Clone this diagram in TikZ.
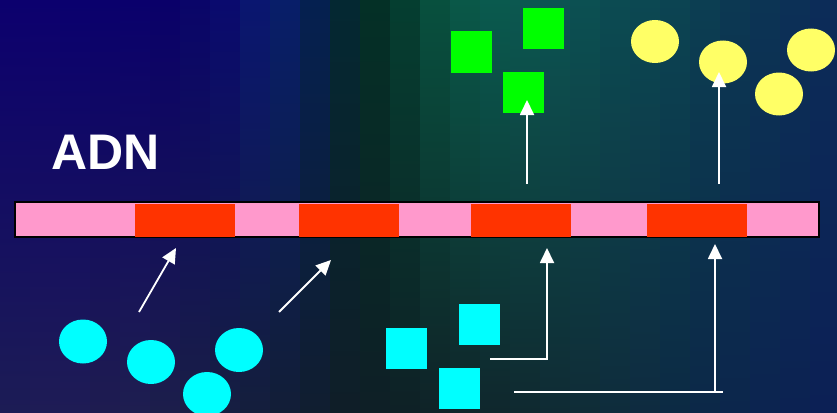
\documentclass[tikz,border=0pt]{standalone}
\usepackage{fontspec}
\setmainfont{Liberation Sans}
\usetikzlibrary{arrows.meta,shapes.geometric}
\definecolor{pinkbar}{RGB}{255,153,204}
\definecolor{redseg}{RGB}{255,51,0}
\definecolor{cyanx}{RGB}{0,255,255}
\definecolor{greenx}{RGB}{0,255,0}
\definecolor{yellowx}{RGB}{255,255,102}
\tikzset{
  seg/.style={fill=redseg, draw=none, minimum width=100pt, minimum height=33pt, inner sep=0},
  sq/.style={draw=none, minimum width=41pt, minimum height=41pt, inner sep=0},
  blob/.style={ellipse, draw=none, minimum width=48pt, minimum height=44pt, inner sep=0},
  arr/.style={draw=white, line width=1.8pt, -{Triangle[width=14pt,length=15pt]}},
  wline/.style={draw=white, line width=2pt}
}
\begin{document}
\begin{tikzpicture}[x=1pt,y=-1pt]
\useasboundingbox (0,0) rectangle (837,412);
% background: vertical strips with top/middle/bottom colours
\foreach \i/\ta/\tb/\tc/\ma/\mb/\mc/\ba/\bb/\bc in {
 0/12/0/110/10/30/120/28/28/85,
 1/12/0/110/10/32/120/30/28/85,
 2/10/0/110/10/35/120/30/28/85,
 3/10/0/108/10/38/118/30/28/80,
 4/10/0/108/10/40/115/30/30/80,
 5/10/0/105/10/42/110/28/30/75,
 6/10/5/105/10/45/105/25/30/70,
 7/10/10/110/10/45/100/22/30/65,
 8/10/22/112/8/45/92/20/30/60,
 9/8/30/105/6/44/80/18/30/55,
 10/5/32/80/5/42/65/16/30/48,
 11/4/40/50/4/42/45/15/30/40,
 12/4/48/38/4/44/36/14/31/38,
 13/5/62/48/5/48/38/14/33/38,
 14/8/80/62/6/55/45/15/35/40,
 15/10/88/72/8/62/55/15/37/42,
 16/10/90/78/8/66/62/15/39/45,
 17/12/88/80/8/68/68/15/41/48,
 18/12/84/82/8/68/72/15/43/52,
 19/12/80/82/8/67/76/15/44/55,
 20/12/75/82/8/66/80/14/44/60,
 21/12/72/82/8/65/84/14/43/64,
 22/12/68/82/8/64/88/12/42/68,
 23/12/62/82/8/62/92/12/40/72,
 24/12/56/82/8/60/96/12/38/76,
 25/12/52/84/8/56/100/12/36/80,
 26/12/48/86/8/52/104/12/34/82,
 27/12/44/88/8/48/108/12/32/85}{
  \definecolor{bgt}{RGB}{\ta,\tb,\tc}
  \definecolor{bgm}{RGB}{\ma,\mb,\mc}
  \definecolor{bgb}{RGB}{\ba,\bb,\bc}
  \shade[top color=bgt, middle color=bgm, bottom color=bgb] (\i*30,0) rectangle (\i*30+30.6,412);
}
% text
\node[anchor=base west, inner sep=0, text=white, font=\bfseries\fontsize{50}{50}\selectfont] (adn) at (51,169) {ADN};
% DNA bar
\node[draw=black, line width=2pt, fill=pinkbar, minimum width=804pt, minimum height=35pt, inner sep=0] (bar) at (416.5,219) {};
\node[seg] (r1) at (185,220.5) {};
\node[seg] (r2) at (349,220.5) {};
\node[seg] (r3) at (521,220.5) {};
\node[seg] (r4) at (697,220.5) {};
% cyan circles
\node[blob, fill=cyanx] (c1) at (83,341.5) {};
\node[blob, fill=cyanx] (c2) at (151,362) {};
\node[blob, fill=cyanx] (c3) at (239,350) {};
\node[blob, fill=cyanx] (c4) at (207,394) {};
% cyan squares
\node[sq, fill=cyanx] (s1) at (406.5,348.5) {};
\node[sq, fill=cyanx] (s2) at (479,324) {};
\node[sq, fill=cyanx] (s3) at (459,388) {};
% green squares
\node[sq, fill=greenx] (g1) at (471.5,52) {};
\node[sq, fill=greenx] (g2) at (543,28.5) {};
\node[sq, fill=greenx] (g3) at (523,92.5) {};
% yellow circles
\node[blob, fill=yellowx, minimum height=43pt] (y1) at (655,41.5) {};
\node[blob, fill=yellowx, minimum height=43pt] (y2) at (723,62) {};
\node[blob, fill=yellowx, minimum height=43pt] (y3) at (811,50) {};
\node[blob, fill=yellowx, minimum height=43pt] (y4) at (779,94) {};
% arrow coordinates
\coordinate (a1s) at (139,312);
\coordinate (a1e) at (176,248);
\coordinate (a2s) at (279,312);
\coordinate (a2e) at (331,260);
\coordinate (u1s) at (527,184);
\coordinate (u1e) at (527,100);
\coordinate (u2s) at (719,184);
\coordinate (u2e) at (719,72);
\coordinate (l1s) at (490,359);
\coordinate (l1e) at (547,248);
\coordinate (l2s) at (514,392);
\coordinate (l2r) at (723,392);
\coordinate (l2b) at (715,392);
\coordinate (l2e) at (715,244);
% arrows
\draw[arr] (a1s) -- (a1e);
\draw[arr] (a2s) -- (a2e);
\draw[arr] (u1s) -- (u1e);
\draw[arr] (u2s) -- (u2e);
\draw[arr] (l1s) -| (l1e);
\draw[wline] (l2s) -- (l2r);
\draw[arr] (l2b) -- (l2e);
\end{tikzpicture}
\end{document}
